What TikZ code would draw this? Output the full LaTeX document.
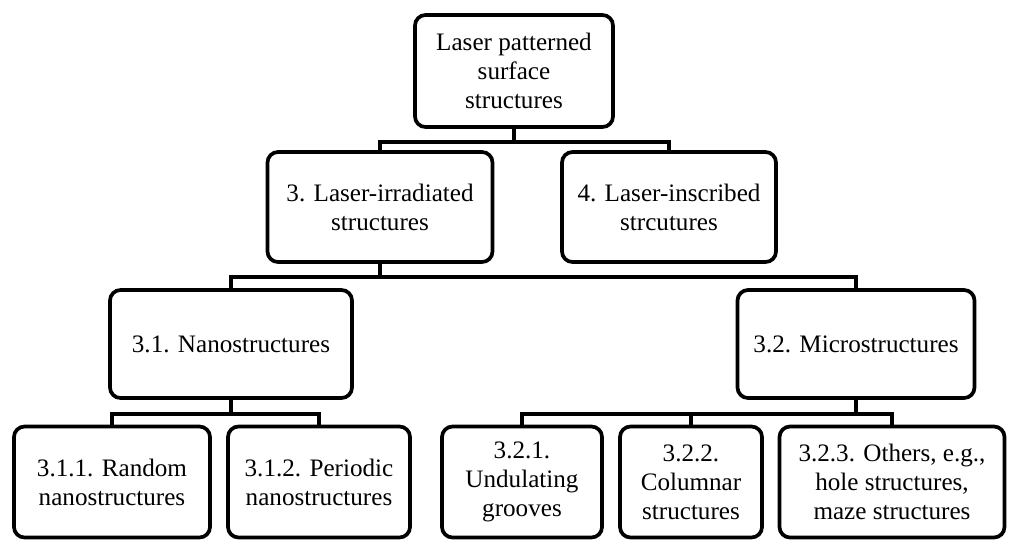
\documentclass[tikz,border=0pt]{standalone}
\usepackage{fontspec}
\setmainfont{Liberation Serif}
\begin{document}
\begin{tikzpicture}[x=0.02cm,y=-0.02cm,
  box/.style={draw,line width=2.1pt,rounded corners=6pt,align=center,font=\fontsize{14.3}{16.5}\selectfont,inner sep=0pt},
  con/.style={line width=2.1pt}]
\useasboundingbox (0,0) rectangle (1024,552);
\node[box,minimum width=198*0.02cm,minimum height=112*0.02cm] (top) at (514,71) {Laser patterned\\surface\\structures};
\node[box,minimum width=225*0.02cm,minimum height=110*0.02cm] (a3) at (380,207) {3. Laser-irradiated\\structures};
\node[box,minimum width=214*0.02cm,minimum height=110*0.02cm] (a4) at (669,207) {4. Laser-inscribed\\strcutures};
\node[box,minimum width=242*0.02cm,minimum height=108*0.02cm] (b1) at (231,344) {3.1. Nanostructures};
\node[box,minimum width=237*0.02cm,minimum height=108*0.02cm] (b2) at (856,344) {3.2. Microstructures};
\node[box,minimum width=196*0.02cm,minimum height=111*0.02cm] (c1) at (112,482) {3.1.1. Random\\nanostructures};
\node[box,minimum width=182*0.02cm,minimum height=111*0.02cm] (c2) at (319,482) {3.1.2. Periodic\\nanostructures};
\node[box,minimum width=160*0.02cm,minimum height=111*0.02cm] (c3) at (522,482) {3.2.1.\\Undulating\\grooves};
\node[box,minimum width=142*0.02cm,minimum height=111*0.02cm] (c4) at (691,482) {3.2.2.\\Columnar\\structures};
\node[box,minimum width=225*0.02cm,minimum height=111*0.02cm] (c5) at (892,482) {3.2.3. Others, e.g.,\\hole structures,\\maze structures};
\draw[con] (top.south) -- ++(0,13) coordinate (j1);
\draw[con] (a3.north) |- (j1) -| (a4.north);
\draw[con] (a3.south) -- ++(0,13) coordinate (j2);
\draw[con] (b1.north) |- (j2) -| (b2.north);
\draw[con] (b1.south) -- ++(0,14) coordinate (j3);
\draw[con] (c1.north) |- (j3) -| (c2.north);
\draw[con] (b2.south) -- ++(0,14) coordinate (j4);
\draw[con] (c3.north) |- (j4) -| (c5.north);
\draw[con] (c4.north) -- (c4.north |- j4);
\end{tikzpicture}
\end{document}
